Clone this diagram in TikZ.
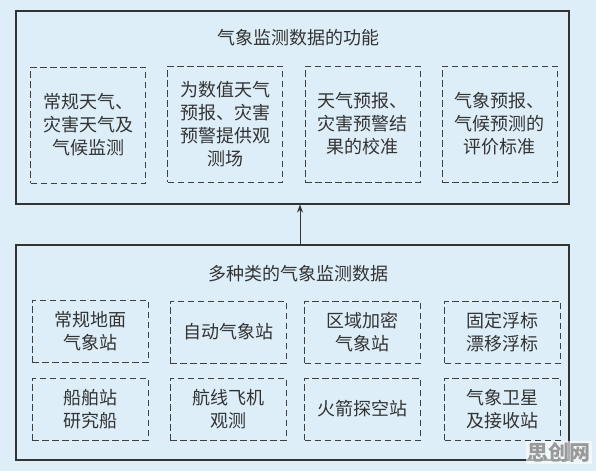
\documentclass[tikz,border=0pt]{standalone}
\usepackage{fontspec}
\newfontfamily\cjk{Noto Sans CJK SC}
\usetikzlibrary{arrows.meta}
\definecolor{bg}{HTML}{DDEEF8}
\definecolor{ink}{HTML}{333333}
\definecolor{dashc}{HTML}{404040}
\tikzset{
  outerbox/.style={draw=ink, line width=1.1pt, rectangle, inner sep=0pt},
  dbox/.style={draw=dashc, line width=0.9pt, dash pattern=on 6.5pt off 3.5pt, rectangle,
    align=center, inner sep=0pt, text=ink, font=\cjk\fontsize{18}{23}\selectfont},
  tbox/.style={dbox, minimum width=115pt, minimum height=116pt},
  bbox/.style={dbox, minimum width=116pt, minimum height=62pt},
  title/.style={text=ink, font=\cjk\fontsize{18}{23}\selectfont, inner sep=0pt},
}
\begin{document}
\begin{tikzpicture}[x=1pt,y=-1pt]
\fill[bg] (0,0) rectangle (596,471);
\useasboundingbox (0,0) rectangle (596,471);
% outer boxes
\node[outerbox, minimum width=553pt, minimum height=193pt] (top) at (292.5,107.5) {};
\node[outerbox, minimum width=553pt, minimum height=215pt] (bot) at (292.5,352.5) {};
\node[title] (ttitle) at (298,38) {气象监测数据的功能};
\node[title] (btitle) at (298,274) {多种类的气象监测数据};
% top row
\node[tbox] (t1) at (88,125) {常规天气、\\灾害天气及\\气候监测};
\node[tbox] (t2) at (225,124) {为数值天气\\预报、灾害\\预警提供观\\测场};
\node[tbox] (t3) at (362.5,124) {天气预报、\\灾害预警结\\果的校准};
\node[tbox] (t4) at (499.5,124) {气象预报、\\气候预测的\\评价标准};
% bottom rows
\node[bbox] (b1) at (90,331) {常规地面\\气象站};
\node[bbox] (b2) at (228,332) {自动气象站};
\node[bbox] (b3) at (362.5,332) {区域加密\\气象站};
\node[bbox] (b4) at (502.5,332) {固定浮标\\漂移浮标};
\node[bbox] (b5) at (90,409) {船舶站\\研究船};
\node[bbox] (b6) at (228,409) {航线飞机\\观测};
\node[bbox] (b7) at (362.5,409) {火箭探空站};
\node[bbox] (b8) at (502.5,409) {气象卫星\\及接收站};
% arrow
\draw[ink, line width=1pt, -{Stealth[length=8pt,width=6pt]}] ([xshift=7.5pt]bot.north) -- ([xshift=7.5pt]top.south);
% watermark
\node[fill=white, fill opacity=0.6, text opacity=1, text=gray!80, inner sep=1.5pt,
  font=\cjk\bfseries\fontsize{21}{21}\selectfont] (wm) at (559,452) {思创网};
\end{tikzpicture}
\end{document}
